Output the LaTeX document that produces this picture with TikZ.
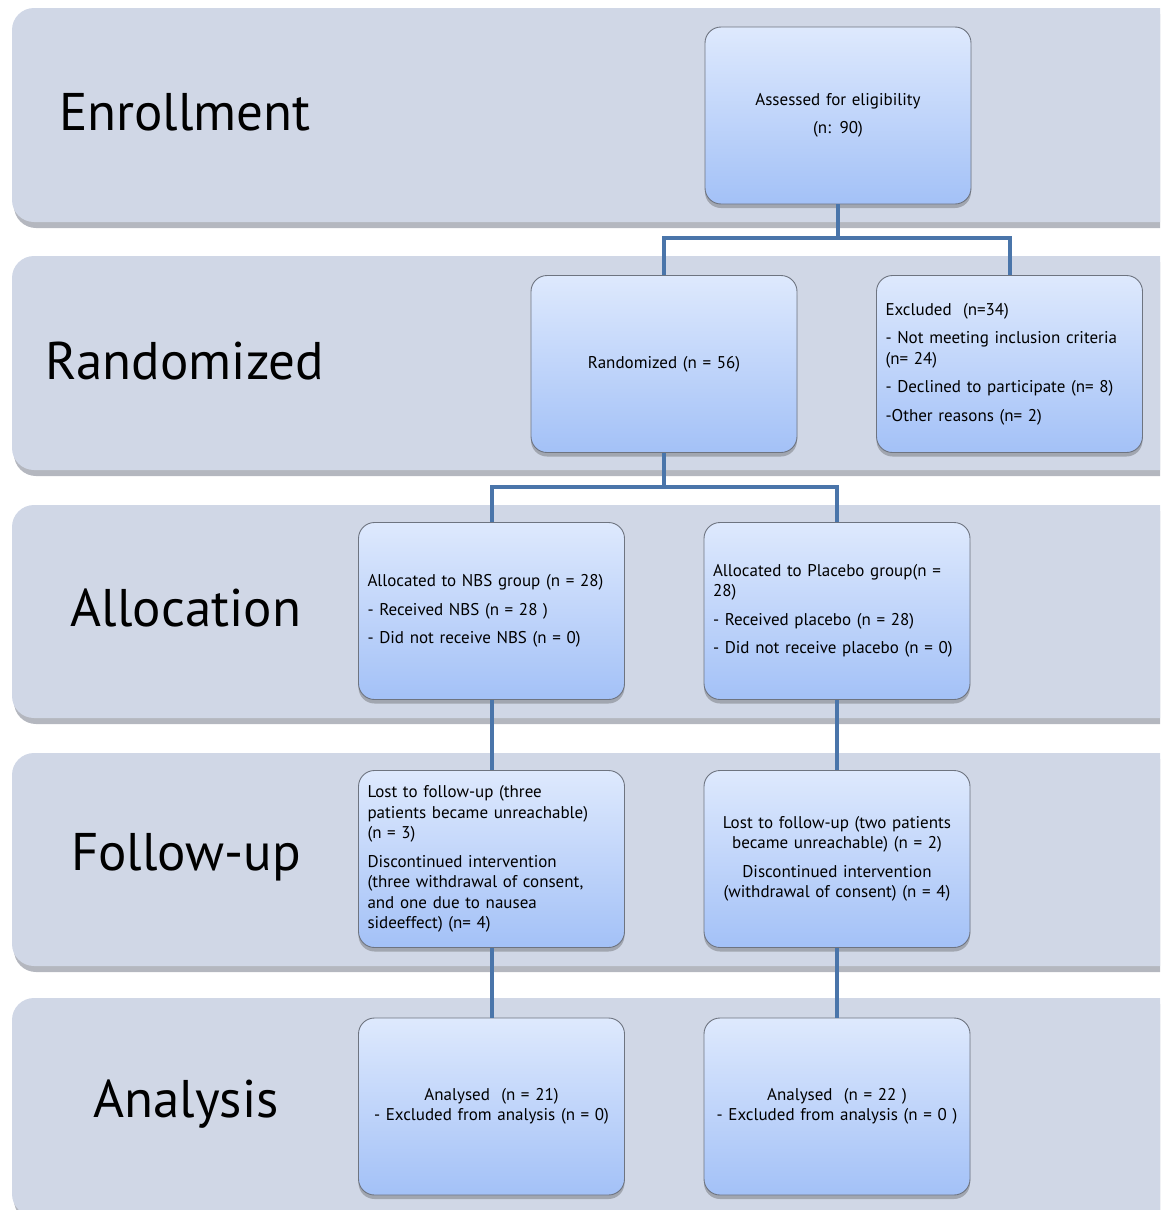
\documentclass[tikz,border=0pt]{standalone}
\usepackage{fontspec}
\setmainfont{PT Sans}
\usetikzlibrary{shadows}
\definecolor{bandfill}{HTML}{D0D7E6}
\definecolor{bandshade}{HTML}{B4B7BF}
\definecolor{boxtop}{HTML}{DEE9FD}
\definecolor{boxbot}{HTML}{A3C1F7}
\definecolor{lineblue}{HTML}{4A75AA}
\definecolor{boxedge}{HTML}{6E7480}
\begin{document}
\begin{tikzpicture}[x=1pt,y=-1pt,
  band/.style={fill=bandfill, rounded corners=22},
  bandsh/.style={fill=bandshade, rounded corners=22},
  box/.style={rounded corners=16, top color=boxtop, bottom color=boxbot,
    draw=boxedge, line width=0.9pt,
    drop shadow={shadow xshift=0pt, shadow yshift=-4pt, opacity=0.35, fill=black!70},
    minimum width=266pt, minimum height=177pt, inner xsep=9pt, inner ysep=6pt,
    font=\fontsize{17}{20.5}\selectfont},
  lbox/.style={box, text width=248pt, align=left},
  cbox/.style={box, text width=248pt, align=center},
  heading/.style={font=\fontsize{53}{58}\selectfont, anchor=center},
  conn/.style={draw=lineblue, line width=4pt}]
\useasboundingbox (0,0) rectangle (1160,1210);
\clip (0,0) rectangle (1160,1210);
% bands
\foreach \t/\b in {8/222, 256/470, 505/718, 753/966, 998/1216}{
  \fill[bandsh] (14,\t+6) rectangle (1220,\b+6);
  \fill[band] (12,\t) rectangle (1220,\b);
}
% headings
\node[heading] (hEnr) at (185,112) {Enrollment};
\node[heading] (hRan) at (185,361) {Randomized};
\node[heading] (hAll) at (186,608) {Allocation};
\node[heading] (hFol) at (186,857) {Follow-up};
\node[heading] (hAna) at (186,1104) {Analysis};
% boxes
\node[cbox] (assess) at (838,115.5) {Assessed for eligibility\\[8pt](n: 90)};
\node[cbox] (rand) at (664,364) {Randomized (n = 56)};
\node[lbox] (excl) at (1009.5,364) {Excluded\ \ (n=34)\\[8pt]- Not meeting inclusion criteria\\(n= 24)\\[8pt]- Declined to participate (n= 8)\\[8pt]-Other reasons (n= 2)};
\node[lbox] (nbs) at (491.5,611) {Allocated to NBS group (n = 28)\\[8pt]- Received NBS (n = 28 )\\[8pt]- Did not receive NBS (n = 0)};
\node[lbox] (plac) at (837,611) {Allocated to Placebo group(n =\\28)\\[8pt]- Received placebo (n = 28)\\[8pt]- Did not receive placebo (n = 0)};
\node[lbox] (fuL) at (491.5,859) {Lost to follow-up (three\\patients became unreachable)\\(n = 3)\\[8pt]Discontinued intervention\\(three withdrawal of consent,\\and one due to nausea\\sideeffect) (n= 4)};
\node[cbox] (fuR) at (837,859) {Lost to follow-up (two patients\\became unreachable) (n = 2)\\[8pt]Discontinued intervention\\(withdrawal of consent) (n = 4)};
\node[cbox] (anL) at (491.5,1106.5) {Analysed\ \ (n = 21)\\- Excluded from analysis (n = 0)};
\node[cbox] (anR) at (837,1106.5) {Analysed\ \ (n = 22 )\\- Excluded from analysis (n = 0 )};
% connectors
\draw[conn] (assess.south) -- ++(0,34) coordinate (j1) -| (rand.north);
\draw[conn] (j1) -| (excl.north);
\draw[conn] (rand.south) -- ++(0,34) coordinate (j2) -| (nbs.north);
\draw[conn] (j2) -| (plac.north);
\draw[conn] (nbs.south) -- (fuL.north);
\draw[conn] (plac.south) -- (fuR.north);
\draw[conn] (fuL.south) -- (anL.north);
\draw[conn] (fuR.south) -- (anR.north);
\end{tikzpicture}
\end{document}
